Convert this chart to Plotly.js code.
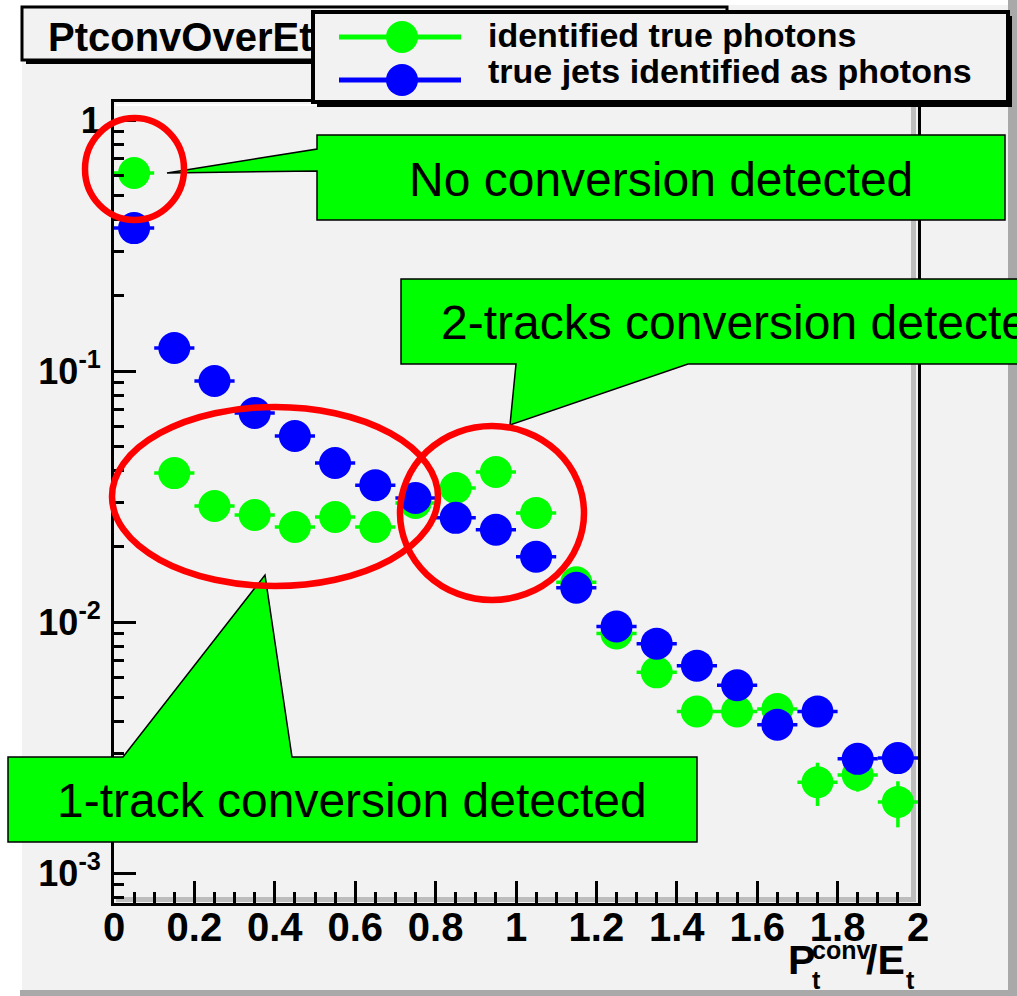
<!DOCTYPE html>
<html>
<head>
<meta charset="utf-8">
<script src="https://cdn.plot.ly/plotly-3.0.1.min.js"></script>
<style>
  html, body { margin: 0; padding: 0; background: #f2f2f2; }
  #chart { width: 1017px; height: 996px; }
</style>
</head>
<body>
<div id="chart"></div>
<script>
// Histogram of Pt(conv)/Et, bin centres (bin width 0.1)
const binCenters = [0.05, 0.15, 0.25, 0.35, 0.45, 0.55, 0.65, 0.75, 0.85, 0.95,
                    1.05, 1.15, 1.25, 1.35, 1.45, 1.55, 1.65, 1.75, 1.85, 1.95];
const binHalfWidth = 0.05;

// identified true photons
const truePhotons = [0.615, 0.0392, 0.0290, 0.0267, 0.0239, 0.0262, 0.0239, 0.0298, 0.0342, 0.0396,
                     0.0272, 0.0144, 0.0090, 0.0063, 0.0044, 0.0044, 0.0045, 0.0023, 0.00246, 0.00192];
const truePhotonsErr = [0.005, 0.0015, 0.0012, 0.0011, 0.001, 0.001, 0.001, 0.0011, 0.0012, 0.0013,
                        0.0011, 0.0008, 0.0006, 0.0005, 0.0004, 0.0004, 0.0004, 0.00045, 0.00035, 0.0004];

// true jets identified as photons
const fakeJets = [0.371, 0.1235, 0.0912, 0.0680, 0.0551, 0.0430, 0.0351, 0.0312, 0.0260, 0.0233,
                  0.0182, 0.0137, 0.0096, 0.0082, 0.0067, 0.0056, 0.0039, 0.0044, 0.00285, 0.00287];
const fakeJetsErr = [0.004, 0.0015, 0.0012, 0.001, 0.0009, 0.0008, 0.0007, 0.0007, 0.0006, 0.0006,
                     0.0005, 0.0005, 0.0004, 0.0004, 0.0003, 0.0003, 0.00025, 0.00025, 0.0002, 0.0002];

const seriesNames = ['identified true photons', 'true jets identified as photons'];
const seriesColors = ['#00ff00', '#0000ff'];
const histTitle = 'PtconvOverEt';
const calloutTexts = ['No conversion detected', '2-tracks conversion detected', '1-track conversion detected'];

const yTickVals = [0.001, 0.01, 0.1, 1];
const yTickText = ['10<sup>-3</sup>', '10<sup>-2</sup>', '10<sup>-1</sup>', '1'];
const yMinorVals = [];
[1e-4, 1e-3, 1e-2, 1e-1].forEach(d => { for (let k = 2; k <= 9; k++) yMinorVals.push(k * d); });

// page geometry (pixels) and conversion to paper fractions for decorations
const W = 1017, H = 996;
const M = { l: 114, r: 99, t: 102, b: 93 };
const PW = W - M.l - M.r, PH = H - M.t - M.b;
const fx = p => (p - M.l) / PW;
const fy = p => (H - M.b - p) / PH;

const FONT = 'Liberation Sans, Arial, Helvetica, sans-serif';

function rect(x0, y0, x1, y1, fill, lineColor, lineWidth, layer) {
  return {
    type: 'rect', xref: 'paper', yref: 'paper', layer: layer || 'above',
    x0: fx(x0), x1: fx(x1), y0: fy(y1), y1: fy(y0),
    fillcolor: fill,
    line: { color: lineColor || 'rgba(0,0,0,0)', width: lineWidth || 0 }
  };
}
function seg(x0, y0, x1, y1, color, width, layer) {
  return {
    type: 'line', xref: 'paper', yref: 'paper', layer: layer || 'above',
    x0: fx(x0), x1: fx(x1), y0: fy(y0), y1: fy(y1),
    line: { color: color, width: width }
  };
}
function ellipse(x0, y0, x1, y1, lineColor, lineWidth, fill) {
  return {
    type: 'circle', xref: 'paper', yref: 'paper', layer: 'above',
    x0: fx(x0), x1: fx(x1), y0: fy(y1), y1: fy(y0),
    fillcolor: fill || 'rgba(0,0,0,0)',
    line: { color: lineColor || 'rgba(0,0,0,0)', width: lineWidth || 0 }
  };
}
function polygon(pts, fill, lineColor, lineWidth) {
  const d = 'M ' + pts.map(([x, y]) => fx(x).toFixed(5) + ' ' + fy(y).toFixed(5)).join(' L ') + ' Z';
  return {
    type: 'path', xref: 'paper', yref: 'paper', layer: 'above', path: d,
    fillcolor: fill, line: { color: lineColor, width: lineWidth }
  };
}
function label(text, x, y, size, opts) {
  opts = opts || {};
  return {
    xref: 'paper', yref: 'paper', x: fx(x), y: fy(y),
    xanchor: opts.xanchor || 'center', yanchor: opts.yanchor || 'middle',
    text: text, showarrow: false, borderpad: 0,
    font: { family: FONT, size: size, color: '#000', weight: opts.bold ? 'bold' : 'normal' }
  };
}

const traces = [
  {
    x: binCenters, y: truePhotons, name: seriesNames[0], type: 'scatter', mode: 'markers',
    marker: { color: seriesColors[0], size: 32, line: { width: 0 } },
    error_x: { type: 'constant', value: binHalfWidth, color: seriesColors[0], thickness: 3.5, width: 0 },
    error_y: { type: 'data', array: truePhotonsErr, color: seriesColors[0], thickness: 3.5, width: 0 },
    showlegend: false, hoverinfo: 'x+y'
  },
  {
    x: binCenters, y: fakeJets, name: seriesNames[1], type: 'scatter', mode: 'markers',
    marker: { color: seriesColors[1], size: 32, line: { width: 0 } },
    error_x: { type: 'constant', value: binHalfWidth, color: seriesColors[1], thickness: 3.5, width: 0 },
    error_y: { type: 'data', array: fakeJetsErr, color: seriesColors[1], thickness: 3.5, width: 0 },
    showlegend: false, hoverinfo: 'x+y'
  }
];

const GREEN = '#00ff00';
const shapes = [
  // canvas bevel
  rect(0, 0, 22, 996, '#ffffff', null, 0, 'below'),
  rect(0, 0, 1017, 5, '#ffffff', null, 0, 'below'),
  rect(1008, 0, 1017, 996, '#a9a9a9', null, 0, 'below'),
  rect(20, 990, 1017, 996, '#a9a9a9', null, 0, 'below'),
  // frame bevel
  rect(116, 897, 916, 902, '#bdbdbd', null, 0, 'below'),
  rect(911, 104, 916, 902, '#bdbdbd', null, 0, 'below'),
  seg(116, 105, 910, 105, '#ffffff', 2, 'below'),

  // histogram title pave
  rect(26, 11, 731, 64, '#000000', null, 0),
  rect(22, 7, 727, 60, '#f2f2f2', '#000000', 3),

  // legend pave
  rect(317, 16, 1012, 107, '#000000', null, 0),
  rect(313, 12, 1008, 102, '#f2f2f2', '#000000', 4),
  seg(339, 37, 461, 37, seriesColors[0], 5),
  ellipse(386, 21, 418, 53, null, 0, seriesColors[0]),
  seg(339, 80, 461, 80, seriesColors[1], 5),
  ellipse(386, 64, 418, 96, null, 0, seriesColors[1]),

  // callouts
  polygon([[317, 135], [1005, 135], [1005, 220], [317, 220], [317, 171], [167, 173], [317, 149]],
          GREEN, '#000000', 1.5),
  polygon([[401, 279], [1120, 279], [1120, 364], [688, 364], [510, 425], [516, 364], [401, 364]],
          GREEN, '#000000', 1.5),
  polygon([[8, 757], [123, 757], [265, 575], [292, 757], [697, 757], [697, 842], [8, 842]],
          GREEN, '#000000', 1.5),

  // highlighted regions
  ellipse(85, 118, 184, 220, '#ff0000', 6.5),
  ellipse(112, 407, 438, 586, '#ff0000', 6.5),
  ellipse(400, 426, 584, 600, '#ff0000', 6.5)
];

const annotations = [
  label(histTitle, 47, 37, 40, { xanchor: 'left', bold: true }),
  label(seriesNames[0], 487, 35, 34, { xanchor: 'left', bold: true }),
  label(seriesNames[1], 487, 71, 34, { xanchor: 'left', bold: true }),
  label(calloutTexts[0], 661, 179, 48),
  label(calloutTexts[1], 440, 322, 48, { xanchor: 'left' }),
  label(calloutTexts[2], 352, 800, 48),
  // x-axis title  P_t^conv / E_t, pieces laid out like the stacked TLatex form
  label('P', 787, 960, 41, { xanchor: 'left', bold: true }),
  label('conv', 811, 950, 25, { xanchor: 'left', bold: true }),
  label('t', 811, 980, 25, { xanchor: 'left', bold: true }),
  label('/E', 865, 960, 41, { xanchor: 'left', bold: true }),
  label('t', 905, 980, 25, { xanchor: 'left', bold: true })
];

const xTickFont = { family: FONT, size: 40, color: '#000', weight: 'bold' };
const yTickFont = { family: FONT, size: 36, color: '#000', weight: 'bold' };

const layout = {
  width: W, height: H,
  margin: { l: M.l, r: M.r, t: M.t, b: M.b, pad: 0 },
  paper_bgcolor: '#f2f2f2',
  plot_bgcolor: 'rgba(0,0,0,0)',
  showlegend: false,
  xaxis: {
    range: [0, 2], tick0: 0, dtick: 0.2,
    showgrid: false, zeroline: false,
    showline: true, linecolor: '#000', linewidth: 3, mirror: true,
    ticks: 'inside', ticklen: 22, tickwidth: 3, tickcolor: '#000',
    minor: { tick0: 0, dtick: 0.05, ticks: 'inside', ticklen: 11, tickwidth: 3, tickcolor: '#000' },
    tickfont: xTickFont, ticklabelstandoff: -13
  },
  yaxis: {
    type: 'log', range: [-3.1195, 0.0717],
    showgrid: false, zeroline: false,
    showline: true, linecolor: '#000', linewidth: 3, mirror: true,
    tickmode: 'array', tickvals: yTickVals, ticktext: yTickText,
    ticks: 'inside', ticklen: 22, tickwidth: 3, tickcolor: '#000',
    minor: { tickmode: 'array', tickvals: yMinorVals, ticks: 'inside', ticklen: 10, tickwidth: 3, tickcolor: '#000' },
    tickfont: yTickFont, ticklabelstandoff: 3
  },
  shapes: shapes,
  annotations: annotations
};

Plotly.newPlot('chart', traces, layout, { staticPlot: true, displayModeBar: false });
</script>
</body>
</html>
